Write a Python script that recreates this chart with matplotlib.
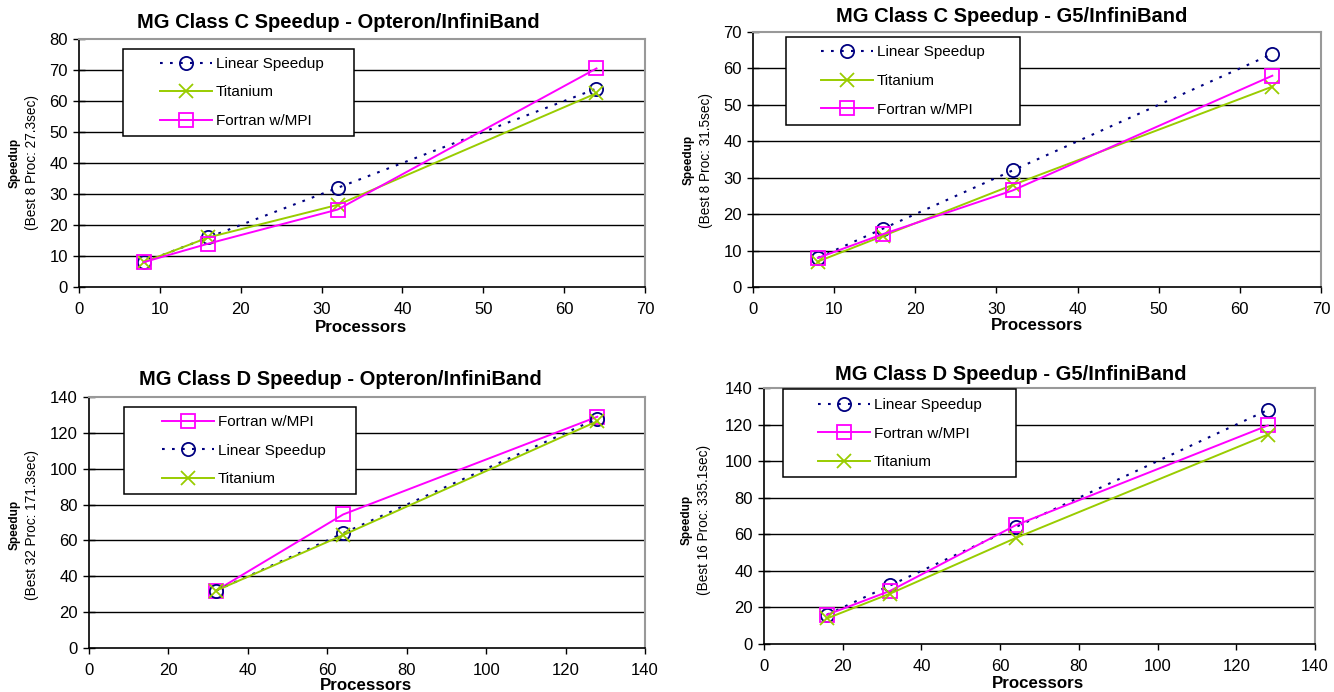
import numpy as np
import matplotlib.pyplot as plt
from matplotlib.patches import Rectangle

plt.rcParams['font.family'] = ['Liberation Sans', 'DejaVu Sans']

W, H = 1334, 692

# panel 1: MG Class C, Opteron
c_procs = [8, 16, 32, 64]
c_opt_linear = [8, 16, 32, 64]
c_opt_titanium = [8, 16, 26.5, 62.5]
c_opt_fortran = [8, 14, 25, 70.5]

# panel 2: MG Class C, G5
c_g5_linear = [8, 16, 32, 64]
c_g5_titanium = [7, 14, 28, 55]
c_g5_fortran = [8, 14.5, 26.5, 58]

# panel 3: MG Class D, Opteron
d_opt_procs = [32, 64, 128]
d_opt_fortran = [32, 74.5, 129]
d_opt_linear = [32, 64, 128]
d_opt_titanium = [32, 63, 126.5]

# panel 4: MG Class D, G5
d_g5_procs = [16, 32, 64, 128]
d_g5_linear = [16, 32, 64, 128]
d_g5_fortran = [16, 29, 65, 119.5]
d_g5_titanium = [14, 27.5, 58, 114.5]

NAVY = '#000080'
GREEN = '#99CC00'
MAGENTA = '#FF00FF'


def fx(px):
    return px / W


def fy(py):
    return 1 - py / H


def px_rect(l, r, t, b):
    return [l / W, 1 - b / H, (r - l) / W, (b - t) / H]


def series(ax, kind, x, y):
    if kind == 'lin':
        ax.plot(x, y, ls=(0, (1.3, 3.5)), color=NAVY, lw=1.5, marker='o', ms=9.5,
                mfc='none', mec=NAVY, mew=1.3, label='Linear Speedup', zorder=3)
    elif kind == 'ti':
        ax.plot(x, y, color=GREEN, lw=1.4, marker='x', ms=9.5, mec=GREEN, mew=1.3,
                label='Titanium', zorder=3)
    else:
        ax.plot(x, y, color=MAGENTA, lw=1.4, marker='s', ms=9.5, mfc='none',
                mec=MAGENTA, mew=1.3, label='Fortran w/MPI', zorder=3)


def style(ax, xmax, xstep, ymax, ystep):
    ax.set_xlim(0, xmax)
    ax.set_ylim(0, ymax)
    ax.set_xticks(np.arange(0, xmax + 1, xstep))
    ax.set_yticks(np.arange(0, ymax + 1, ystep))
    ax.tick_params(axis='x', direction='out', length=4, width=1, labelsize=12, pad=7)
    ax.tick_params(axis='y', direction='inout', length=8, width=1, labelsize=12, pad=4)
    for y in np.arange(ystep, ymax, ystep):
        ax.axhline(y, color='black', lw=1, zorder=1)
    ax.spines['left'].set_color('black')
    ax.spines['bottom'].set_color('black')
    ax.spines['left'].set_linewidth(1.2)
    ax.spines['bottom'].set_linewidth(1.2)
    ax.spines['top'].set_color('#999999')
    ax.spines['right'].set_color('#999999')
    ax.spines['top'].set_linewidth(1.5)
    ax.spines['right'].set_linewidth(1.5)


def labels(fig, title, tpos, xpos, ylab_x, yc, sub):
    fig.text(fx(tpos[0]), fy(tpos[1]), title, ha='center', va='center',
             fontsize=14.5, fontweight='bold')
    fig.text(fx(xpos[0]), fy(xpos[1]), 'Processors', ha='center', va='center',
             fontsize=12.2, fontweight='bold')
    fig.text(fx(ylab_x), fy(yc), 'Speedup', rotation=90, ha='center', va='center',
             fontsize=8.5, fontweight='bold')
    fig.text(fx(ylab_x + 17), fy(yc), sub, rotation=90, ha='center', va='center',
             fontsize=9.8)


def legend_box(ax, box, handle_x, mid_y):
    fig = ax.figure
    l, r, t, b = box
    # white box with black edge, drawn inside the axes so the legend sits on top
    ax.add_patch(Rectangle((fx(l), fy(b)), (r - l) / W, (b - t) / H,
                           transform=fig.transFigure, facecolor='white',
                           edgecolor='black', lw=1.1, zorder=4, clip_on=False))
    leg = ax.legend(loc='center left', bbox_to_anchor=(fx(handle_x), fy(mid_y)),
                    bbox_transform=fig.transFigure, frameon=False, fontsize=11,
                    handlelength=3.4, labelspacing=0.95, borderpad=0,
                    handletextpad=0.25, borderaxespad=0)
    leg.set_zorder(5)


fig = plt.figure(figsize=(W / 100, H / 100), dpi=100)

ax1 = fig.add_axes(px_rect(79, 645, 39, 287))
series(ax1, 'lin', c_procs, c_opt_linear)
series(ax1, 'ti', c_procs, c_opt_titanium)
series(ax1, 'fo', c_procs, c_opt_fortran)
style(ax1, 70, 10, 80, 10)
labels(fig, 'MG Class C Speedup - Opteron/InfiniBand', (338, 22), (361, 328),
       15, 163, '(Best 8 Proc: 27.3sec)')
legend_box(ax1, (123, 354, 49, 136), 160, 92.5)

ax2 = fig.add_axes(px_rect(753, 1321, 32, 287))
series(ax2, 'lin', c_procs, c_g5_linear)
series(ax2, 'ti', c_procs, c_g5_titanium)
series(ax2, 'fo', c_procs, c_g5_fortran)
style(ax2, 70, 10, 70, 10)
labels(fig, 'MG Class C Speedup - G5/InfiniBand', (1012, 17), (1037, 326),
       689, 160, '(Best 8 Proc: 31.5sec)')
legend_box(ax2, (786, 1020, 37, 125), 821, 81)

ax3 = fig.add_axes(px_rect(89, 645, 397, 648))
series(ax3, 'fo', d_opt_procs, d_opt_fortran)
series(ax3, 'lin', d_opt_procs, d_opt_linear)
series(ax3, 'ti', d_opt_procs, d_opt_titanium)
style(ax3, 140, 20, 140, 20)
labels(fig, 'MG Class D Speedup - Opteron/InfiniBand', (340, 379), (366, 686),
       15, 525, '(Best 32 Proc: 171.3sec)')
legend_box(ax3, (124, 356, 407, 494), 162, 450.5)

ax4 = fig.add_axes(px_rect(764, 1315, 388, 644))
series(ax4, 'lin', d_g5_procs, d_g5_linear)
series(ax4, 'fo', d_g5_procs, d_g5_fortran)
series(ax4, 'ti', d_g5_procs, d_g5_titanium)
style(ax4, 140, 20, 140, 20)
labels(fig, 'MG Class D Speedup - G5/InfiniBand', (1011, 375), (1038, 683),
       687, 520, '(Best 16 Proc: 335.1sec)')
legend_box(ax4, (783, 1016, 389, 477), 818, 433.5)

fig.savefig('out.png', dpi=100)
